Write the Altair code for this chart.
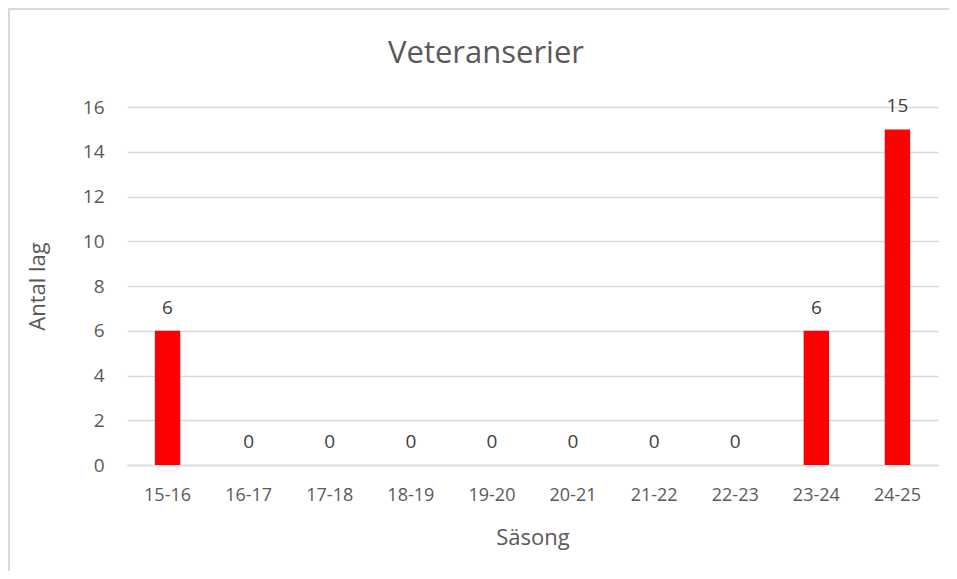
import altair as alt
import pandas as pd

seasons = ["15-16", "16-17", "17-18", "18-19", "19-20", "20-21", "21-22", "22-23", "23-24", "24-25"]
teams = [6, 0, 0, 0, 0, 0, 0, 0, 6, 15]
y_ticks = [0, 2, 4, 6, 8, 10, 12, 14, 16]
chart_title = ["Veteranserier"]

df = pd.DataFrame({"season": seasons, "teams": teams})
title_df = pd.DataFrame({"t": chart_title})

FONT = "Open Sans"
GREY = "#595959"

x_enc = alt.X(
    "season:N",
    sort=seasons,
    scale=alt.Scale(paddingInner=0.687, paddingOuter=0.3435),
    axis=alt.Axis(
        title="Säsong",
        labelAngle=0,
        labelFontSize=18,
        labelColor=GREY,
        labelFont=FONT,
        labelPadding=21,
        ticks=False,
        domainColor="#d9d9d9",
        domainWidth=1.5,
        titleFontSize=22,
        titleFont=FONT,
        titleFontWeight="normal",
        titleColor=GREY,
        titleX=405.5,
        titleY=72,
        titleBaseline="middle",
        titleAlign="center",
    ),
)

y_enc = alt.Y(
    "teams:Q",
    scale=alt.Scale(domain=[0, 16], nice=False),
    axis=alt.Axis(
        title="Antal lag",
        values=y_ticks,
        labelFontSize=19,
        labelColor=GREY,
        labelFont=FONT,
        labelPadding=23,
        ticks=False,
        domain=False,
        gridColor="#d9d9d9",
        gridWidth=1.5,
        titleFontSize=22,
        titleFont=FONT,
        titleFontWeight="normal",
        titleColor=GREY,
        titleX=-90,
        titleY=179,
        titleAngle=-90,
        titleBaseline="middle",
        titleAlign="center",
    ),
)

base = alt.Chart(df)

bars = base.mark_bar(color="#ff0000").encode(x=x_enc, y=y_enc)

labels = base.mark_text(
    fontSize=19, font=FONT, color="#404040", baseline="alphabetic", dy=-17
).encode(x=alt.X("season:N", sort=seasons), y="teams:Q", text="teams:Q")

title_mark = alt.Chart(title_df).mark_text(
    fontSize=31, font=FONT, color=GREY, baseline="alphabetic", align="center"
).encode(text="t:N", x=alt.value(359), y=alt.value(-44))

border_left = alt.Chart(df).mark_rule(color="#d9d9d9", strokeWidth=2).encode(
    x=alt.value(-118), y=alt.value(-99), y2=alt.value(470)
)
border_top = alt.Chart(df).mark_rule(color="#d9d9d9", strokeWidth=2).encode(
    x=alt.value(-118), x2=alt.value(830), y=alt.value(-98)
)

chart = alt.layer(bars, labels, title_mark, border_left, border_top).properties(
    width=811,
    height=358,
    padding={"left": 119, "top": 99, "right": 11, "bottom": 106},
    autosize=alt.AutoSizeParams(type="none"),
).configure_view(stroke=None)

chart.save("out.html", embed_options={"renderer": "svg", "actions": False})
